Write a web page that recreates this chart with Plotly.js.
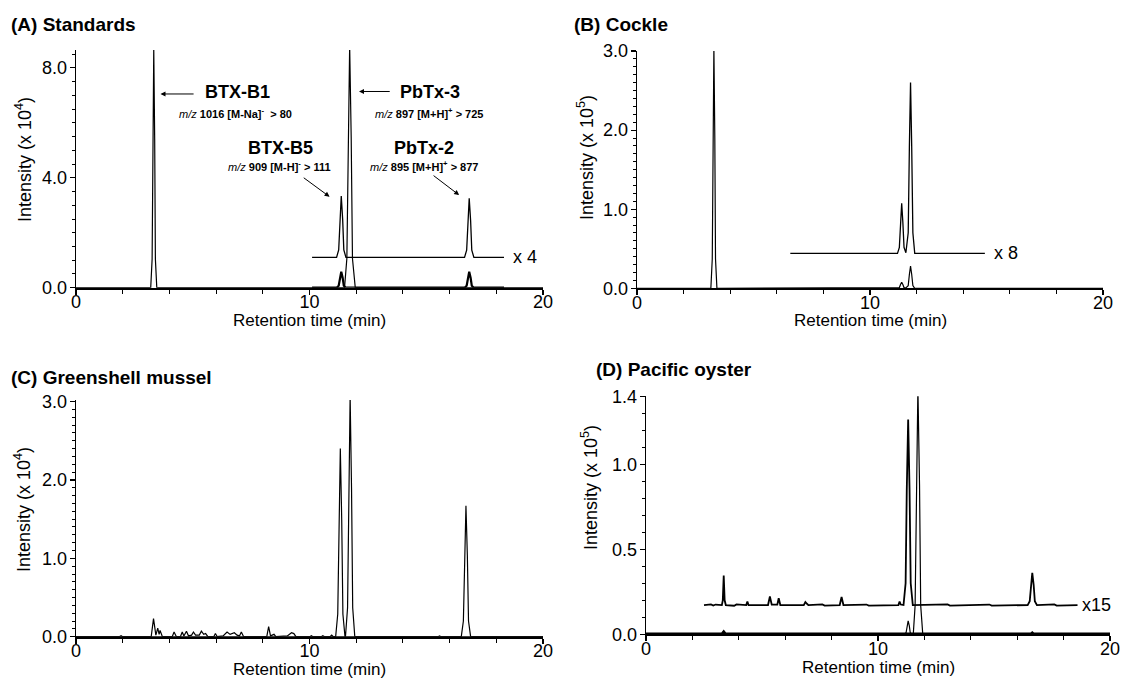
<!DOCTYPE html>
<html>
<head>
<meta charset="utf-8">
<script src="https://cdn.plot.ly/plotly-3.0.1.min.js"></script>
<style>html,body{margin:0;padding:0;background:#fff;}#chart{width:1126px;height:679px;}</style>
</head>
<body>
<div id="chart"></div>
<script>
// ---------- (A) Standards, intensity x 10^4 ----------
const aMainTime = [0, 3.20, 3.26, 3.29, 3.33, 3.37, 3.40, 3.46, 11.50, 11.60, 11.654, 11.72, 11.786, 11.84, 11.96, 20];
const aMainInt  = [0, 0, 1.04, 5.39, 8.7, 5.39, 1.04, 0, 0, 1.06, 5.46, 8.8, 5.46, 1.06, 0, 0];
const aX4Time = [10.11, 11.16, 11.25, 11.30, 11.36, 11.42, 11.47, 11.56, 16.64, 16.73, 16.78, 16.84, 16.90, 16.95, 17.04, 18.33];
const aX4Int  = [1.105, 1.105, 1.375, 2.485, 3.335, 2.485, 1.375, 1.105, 1.105, 1.365, 2.435, 3.255, 2.435, 1.365, 1.105, 1.105];
const aRawTime = [10.11, 11.16, 11.25, 11.30, 11.36, 11.42, 11.47, 11.56, 16.64, 16.73, 16.78, 16.84, 16.90, 16.95, 17.04, 18.33];
const aRawInt  = [0, 0, 0.07, 0.36, 0.58, 0.36, 0.07, 0, 0, 0.07, 0.36, 0.58, 0.36, 0.07, 0, 0];

// ---------- (B) Cockle, intensity x 10^5 ----------
const bMainTime = [0, 3.17, 3.23, 3.26, 3.30, 3.34, 3.37, 3.43, 11.18, 11.26, 11.31, 11.36, 11.41, 11.46, 11.54, 11.64, 11.69, 11.74, 11.79, 11.84, 11.92, 20];
const bMainInt  = [0, 0, 0.37, 1.89, 3.05, 1.89, 0.37, 0, 0, 0.009, 0.047, 0.076, 0.047, 0.009, 0.005, 0.034, 0.174, 0.28, 0.174, 0.034, 0, 0];
const bX8Time = [6.58, 11.18, 11.26, 11.31, 11.36, 11.41, 11.46, 11.54, 11.64, 11.69, 11.74, 11.79, 11.84, 11.92, 14.93];
const bX8Int  = [0.442, 0.442, 0.518, 0.834, 1.075, 0.834, 0.518, 0.45, 0.702, 1.782, 2.602, 1.782, 0.702, 0.442, 0.442];

// ---------- (C) Greenshell mussel, intensity x 10^4 ----------
const cMainTime = [0, 11.12, 11.21, 11.26, 11.32, 11.38, 11.43, 11.52, 11.54, 11.63, 11.68, 11.74, 11.80, 11.85, 11.94, 16.50, 16.59, 16.64, 16.70, 16.76, 16.81, 16.90, 20];
const cMainInt  = [0, 0, 0.29, 1.49, 2.40, 1.49, 0.29, 0, 0, 0.37, 1.90, 3.07, 1.90, 0.37, 0, 0, 0.20, 1.04, 1.67, 1.04, 0.20, 0, 0];
const cNoiseTime = [0, 1.85, 1.93, 2.00, 3.22, 3.32, 3.42, 3.50, 3.56, 3.60, 3.70, 4.12, 4.20, 4.30, 4.47, 4.55, 4.62, 4.73, 4.82, 4.95, 5.03, 5.12, 5.28, 5.37, 5.47, 5.55, 5.65, 5.90, 5.97, 6.05, 6.30, 6.47, 6.60, 6.78, 6.90, 7.00, 7.08, 7.18, 8.17, 8.25, 8.33, 8.48, 8.56, 9.05, 9.23, 9.33, 9.42, 10.01, 10.08, 10.15, 10.50, 10.57, 10.65, 10.88, 10.95, 11.02, 15.50, 15.57, 15.64, 20];
const cNoiseInt  = [0, 0, 0.012, 0, 0, 0.23, 0.02, 0.11, 0.03, 0.08, 0, 0, 0.06, 0, 0, 0.06, 0.01, 0.07, 0.01, 0.02, 0.06, 0.02, 0.02, 0.07, 0.03, 0.04, 0, 0, 0.04, 0, 0.01, 0.06, 0.03, 0.05, 0.02, 0.01, 0.06, 0, 0, 0.13, 0.01, 0.03, 0, 0.01, 0.05, 0.04, 0, 0, 0.012, 0, 0, 0.012, 0, 0, 0.02, 0, 0, 0.01, 0, 0];

// ---------- (D) Pacific oyster, intensity x 10^5 ----------
const dMainTime = [0, 11.12, 11.21, 11.25, 11.30, 11.35, 11.39, 11.46, 11.52, 11.60, 11.65, 11.72, 11.79, 11.84, 11.93, 20];
const dMainInt  = [0, 0, 0.009, 0.049, 0.079, 0.049, 0.009, 0.002, 0, 0.17, 0.88, 1.45, 0.88, 0.17, 0, 0];
const dRawTime = [0, 3.28, 3.35, 3.42, 16.6, 16.65, 16.7, 20];
const dRawInt  = [0, 0, 0.012, 0, 0, 0.006, 0, 0];
const dX15Time = [2.50, 2.80, 2.90, 3.00, 3.27, 3.31, 3.35, 3.39, 3.44, 3.80, 3.90, 4.32, 4.37, 4.42, 5.26, 5.34, 5.42, 5.66, 5.72, 5.79, 6.80, 6.87, 6.95, 7.00, 7.60, 7.70, 8.35, 8.43, 8.51, 9.50, 9.60, 10.88, 10.93, 10.98, 11.10, 11.19, 11.24, 11.30, 11.36, 11.41, 11.50, 13.0, 13.1, 14.8, 14.9, 16.45, 16.54, 16.59, 16.65, 16.71, 16.76, 16.85, 17.6, 17.7, 18.60];
const dX15Int  = [0.172, 0.176, 0.169, 0.175, 0.172, 0.20, 0.345, 0.20, 0.172, 0.168, 0.176, 0.172, 0.192, 0.172, 0.172, 0.222, 0.174, 0.174, 0.212, 0.172, 0.172, 0.19, 0.178, 0.172, 0.176, 0.169, 0.172, 0.219, 0.172, 0.175, 0.169, 0.172, 0.192, 0.175, 0.172, 0.30, 0.85, 1.264, 0.85, 0.30, 0.172, 0.176, 0.169, 0.175, 0.169, 0.172, 0.195, 0.29, 0.362, 0.29, 0.195, 0.172, 0.176, 0.169, 0.172];

const FONT = '"Liberation Sans", Arial, Helvetica, sans-serif';
const BLACK = '#000';

function line(x, y, xa, ya, w) {
  return {type: 'scatter', mode: 'lines', x: x, y: y, xaxis: xa, yaxis: ya,
          line: {color: BLACK, width: w}, hoverinfo: 'skip'};
}

const traces = [
  line(aMainTime, aMainInt, 'x', 'y', 1.2),
  line(aRawTime, aRawInt, 'x', 'y', 2.2),
  line(aX4Time, aX4Int, 'x', 'y', 1.3),
  line(bMainTime, bMainInt, 'x2', 'y2', 1.2),
  line(bX8Time, bX8Int, 'x2', 'y2', 1.3),
  line(cNoiseTime, cNoiseInt, 'x3', 'y3', 1.2),
  line(cMainTime, cMainInt, 'x3', 'y3', 1.2),
  line(dRawTime, dRawInt, 'x4', 'y4', 3.5),
  line(dMainTime, dMainInt, 'x4', 'y4', 1.2),
  line(dX15Time, dX15Int, 'x4', 'y4', 1.8)
];

const W = 1126, H = 679;
const px = v => v / W;
const py = v => 1 - v / H;

function xAxis(d, anchor) {
  return {
    domain: d, anchor: anchor, range: [0, 20], tick0: 0, dtick: 10,
    showline: true, linecolor: BLACK, linewidth: 1.8,
    ticks: 'outside', ticklen: 5, tickwidth: 1.2, tickcolor: BLACK,
    minor: {dtick: 2, tick0: 0, ticks: 'outside', ticklen: 4, tickwidth: 1, tickcolor: BLACK, showgrid: false},
    showgrid: false, zeroline: false, fixedrange: true, ticklabelstandoff: -8,
    tickfont: {family: FONT, size: 18, color: BLACK}
  };
}
function yAxis(d, anchor, range, dtick, minorDtick, extra) {
  return Object.assign({
    domain: d, anchor: anchor, range: range, tick0: 0, dtick: dtick, tickformat: '.1f',
    showline: true, linecolor: BLACK, linewidth: 1.4,
    ticks: 'outside', ticklen: 5, tickwidth: 1.2, tickcolor: BLACK,
    minor: {dtick: minorDtick, tick0: 0, ticks: 'outside', ticklen: 3, tickwidth: 1, tickcolor: BLACK, showgrid: false},
    showgrid: false, zeroline: false, fixedrange: true, ticklabelstandoff: -1,
    tickfont: {family: FONT, size: 18, color: BLACK}
  }, extra || {});
}

const annFont = s => ({family: FONT, size: s, color: BLACK});
function ytitle(x, y, p) {
  return {xref: 'paper', yref: 'paper', x: px(x), y: py(y), xanchor: 'center', yanchor: 'middle',
          textangle: -90, showarrow: false, text: 'Intensity (x 10<sup>' + p + '</sup>)', font: annFont(18)};
}
function xtitle(x, y) {
  return {xref: 'paper', yref: 'paper', x: px(x), y: py(y), xanchor: 'center', yanchor: 'middle',
          showarrow: false, text: 'Retention time (min)', font: annFont(17)};
}
function ptitle(x, y, t) {
  return {xref: 'paper', yref: 'paper', x: px(x), y: py(y), xanchor: 'left', yanchor: 'middle',
          showarrow: false, text: '<b>' + t + '</b>', font: annFont(19)};
}
function arrow(x, y, ax, ay) {
  return {xref: 'x', yref: 'y', axref: 'x', ayref: 'y', x: x, y: y, ax: ax, ay: ay, text: '',
          showarrow: true, arrowhead: 2, arrowsize: 1, arrowwidth: 1, arrowcolor: BLACK};
}
function label(xr, yr, x, y, t, s) {
  return {xref: xr, yref: yr, x: x, y: y, xanchor: 'center', yanchor: 'middle', showarrow: false, text: t, font: annFont(s)};
}

const annotations = [
  ptitle(9, 25, '(A) Standards'),
  ptitle(572, 25, '(B) Cockle'),
  ptitle(9, 377, '(C) Greenshell mussel'),
  ptitle(594, 370, '(D) Pacific oyster'),
  ytitle(23, 160, 4),
  ytitle(585, 158, 5),
  ytitle(22, 510, 4),
  ytitle(589, 488, 5),
  xtitle(309, 320),
  xtitle(870, 320),
  xtitle(309, 669),
  xtitle(878, 667),
  label('x', 'y', 6.9, 7.13, '<b>BTX-B1</b>', 18),
  label('x', 'y', 6.85, 6.34, '<i>m/z</i> <b>1016 [M-Na]<sup>-</sup>  &gt; 80</b>', 11),
  label('x', 'y', 15.14, 7.13, '<b>PbTx-3</b>', 18),
  label('x', 'y', 15.12, 6.34, '<i>m/z</i> <b>897 [M+H]<sup>+</sup> &gt; 725</b>', 11),
  label('x', 'y', 8.76, 5.1, '<b>BTX-B5</b>', 18),
  label('x', 'y', 8.72, 4.43, '<i>m/z</i> <b>909 [M-H]<sup>-</sup> &gt; 111</b>', 11),
  label('x', 'y', 14.9, 5.1, '<b>PbTx-2</b>', 18),
  label('x', 'y', 14.89, 4.43, '<i>m/z</i> <b>895 [M+H]<sup>+</sup> &gt; 877</b>', 11),
  arrow(3.62, 7.05, 5.1, 7.05),
  arrow(12.12, 7.14, 13.5, 7.14),
  arrow(10.86, 3.31, 9.69, 4.04),
  arrow(16.41, 3.37, 15.25, 4.12),
  label('x', 'y', 19.25, 1.12, 'x 4', 18),
  label('x2', 'y2', 15.85, 0.45, 'x 8', 18),
  label('x4', 'y4', 19.42, 0.17, 'x15', 18)
];

const layout = {
  width: W, height: H,
  margin: {l: 0, r: 0, t: 0, b: 0},
  paper_bgcolor: '#fff', plot_bgcolor: 'rgba(0,0,0,0)',
  showlegend: false,
  font: {family: FONT, color: BLACK},
  xaxis:  xAxis([px(76), px(543)], 'y'),
  yaxis:  yAxis([py(287.7), py(50)], 'x', [0, 8.65], 4, 0.5),
  xaxis2: xAxis([px(637), px(1103)], 'y2'),
  yaxis2: yAxis([py(288.3), py(51)], 'x2', [0, 3.0], 1, 0.1),
  xaxis3: xAxis([px(76), px(543)], 'y3'),
  yaxis3: yAxis([py(636.7), py(400)], 'x3', [0, 3.02], 1, 0.1),
  xaxis4: xAxis([px(646), px(1110)], 'y4'),
  yaxis4: yAxis([py(634.3), py(396.3)], 'x4', [0, 1.4], 0.5, 0.1,
                {tickmode: 'array', tickvals: [0, 0.5, 1.0, 1.4], ticktext: ['0.0', '0.5', '1.0', '1.4']}),
  annotations: annotations
};

Plotly.newPlot('chart', traces, layout, {staticPlot: true, displayModeBar: false});
</script>
</body>
</html>
